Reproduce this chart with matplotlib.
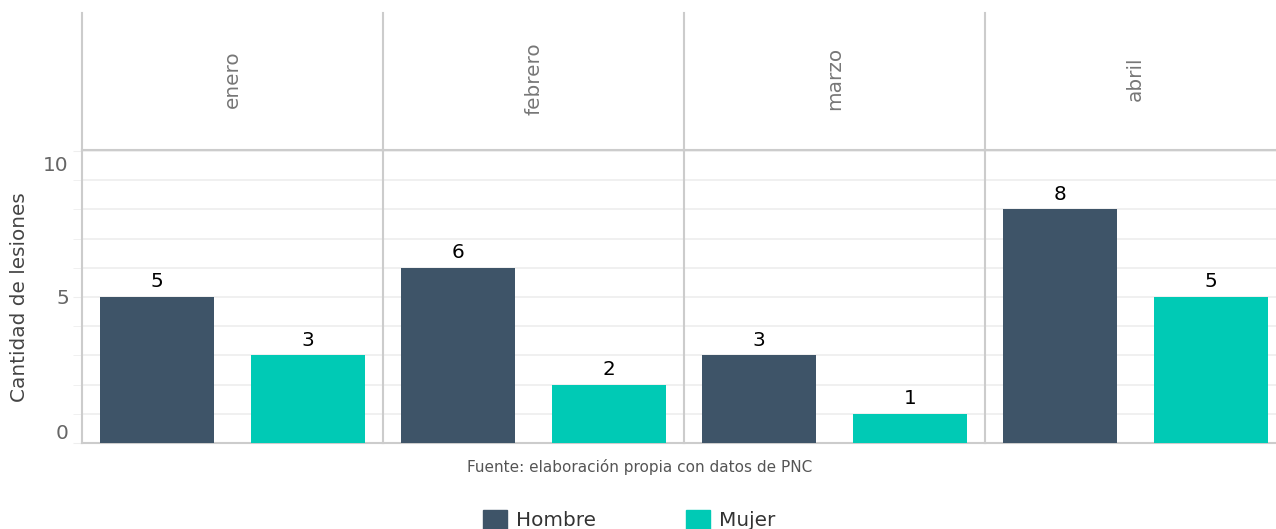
import matplotlib
matplotlib.use('Agg')
import matplotlib.pyplot as plt
from matplotlib.patches import Patch
from matplotlib.transforms import ScaledTranslation

meses = ['enero', 'febrero', 'marzo', 'abril']
hombre = [5, 6, 3, 8]
mujer = [3, 2, 1, 5]
sexos = ['Hombre', 'Mujer']
colores = ['#3e5468', '#00cab5']

W, H = 1276, 529
fig = plt.figure(figsize=(W / 100, H / 100), dpi=100)
plt.rcParams['font.family'] = 'DejaVu Sans'
fs = 14.4

panel_w = 301
left0 = 82
y_bot = 443
y_top = 150
y_strip = 13

for i, mes in enumerate(meses):
    x0 = (left0 + panel_w * i) / W
    ax = fig.add_axes([x0, (H - y_bot) / H, panel_w / W, (y_bot - y_top) / H])
    vals = [hombre[i], mujer[i]]
    bars = ax.bar([0, 1], vals, width=0.76, color=colores, zorder=3)
    ax.bar_label(bars, padding=4, fontsize=fs, color='black')
    ax.set_xlim(-0.5, 1.5)
    ax.set_ylim(0, 10.03)
    ax.set_yticks([0, 5, 10])
    ax.set_yticks(range(1, 10), minor=True)
    ax.grid(axis='y', which='both', color='#eeeeee', lw=1.2, zorder=0)
    ax.set_xticks([])
    for s in ['top', 'right']:
        ax.spines[s].set_visible(False)
    ax.spines['left'].set_color('#cccccc')
    ax.spines['left'].set_linewidth(1.5)
    ax.spines['bottom'].set_color('#cccccc')
    ax.spines['bottom'].set_linewidth(1.5)
    if i == 0:
        ax.tick_params(axis='y', which='both', length=6.5, color='#eeeeee',
                       labelsize=fs, labelcolor='#666666', pad=3)
        labs = ax.get_yticklabels()
        labs[0].set_va('bottom')
        labs[2].set_va('top')
        labs[2].set_transform(labs[2].get_transform() +
                              ScaledTranslation(0, -5 / 100, fig.dpi_scale_trans))
    else:
        ax.tick_params(axis='y', which='both', length=0, labelleft=False)

    st = fig.add_axes([x0, (H - y_top) / H, panel_w / W, (y_top - y_strip) / H])
    st.set_xlim(0, 1)
    st.set_ylim(0, 1)
    st.set_xticks([])
    st.set_yticks([])
    for s in ['top', 'right']:
        st.spines[s].set_visible(False)
    for s in ['left', 'bottom']:
        st.spines[s].set_color('#cccccc')
        st.spines[s].set_linewidth(1.5)
    st.text(0.5, 0.52, mes, rotation=90, ha='center', va='center',
            fontsize=fs, color='#777777')

fig.text(20 / W, 1 - 297 / H, 'Cantidad de lesiones', rotation=90,
         ha='center', va='center', fontsize=fs, color='#444444')
fig.text(640 / W, 1 - 467 / H, 'Fuente: elaboración propia con datos de PNC',
         ha='center', va='center', fontsize=11, color='#555555')

handles = [Patch(color=c, label=s) for c, s in zip(colores, sexos)]
fig.legend(handles=handles, loc='center', bbox_to_anchor=(629 / W, 1 - 520 / H),
           ncol=2, frameon=False, fontsize=fs, handlelength=1.2, handleheight=1.2,
           handletextpad=0.45, columnspacing=4.5, labelcolor='#333333')

fig.savefig('out.png', dpi=100)
